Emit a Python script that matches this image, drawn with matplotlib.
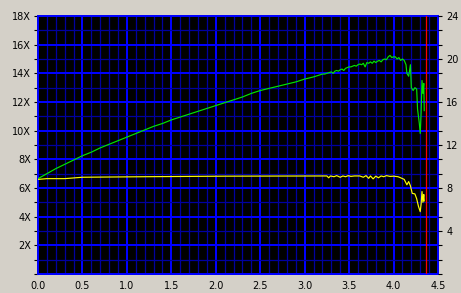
import matplotlib
matplotlib.use("Agg")
import matplotlib.pyplot as plt
from matplotlib.ticker import MultipleLocator, FixedLocator

# Data
read_pos = [0.0, 0.1, 0.2, 0.3, 0.4, 0.5, 0.6, 0.7, 0.8, 0.9, 1.0, 1.1, 1.2, 1.3,
            1.4, 1.5, 1.6, 1.7, 1.8, 1.9, 2.0, 2.1, 2.2, 2.3, 2.4, 2.5, 2.6, 2.7,
            2.8, 2.9, 3.0, 3.1, 3.15,
            3.20, 3.225, 3.25, 3.275, 3.30, 3.32, 3.34, 3.36, 3.38, 3.40, 3.42,
            3.44, 3.46, 3.48, 3.50, 3.52, 3.54, 3.56, 3.58, 3.60, 3.62, 3.64,
            3.66, 3.68, 3.70, 3.72, 3.74, 3.76, 3.78, 3.80, 3.82, 3.84, 3.86,
            3.88, 3.90, 3.92, 3.94, 3.96, 3.98, 4.00, 4.02, 4.04, 4.06, 4.08,
            4.10, 4.12, 4.14, 4.15, 4.17, 4.19, 4.20, 4.22, 4.24, 4.26, 4.27,
            4.29, 4.30, 4.31, 4.32, 4.33, 4.34, 4.345]
read_speed = [6.65, 7.0, 7.35, 7.65, 7.95, 8.25, 8.5, 8.8, 9.05, 9.3, 9.55, 9.8,
              10.05, 10.3, 10.5, 10.75, 10.95, 11.15, 11.35, 11.55, 11.75, 11.95,
              12.15, 12.35, 12.6, 12.8, 12.95, 13.1, 13.25, 13.4, 13.6, 13.75,
              13.85,
              13.95, 13.95, 14.0, 14.05, 14.1, 14.0, 14.15, 14.2, 14.15, 14.25,
              14.3, 14.2, 14.35, 14.4, 14.45, 14.45, 14.5, 14.55, 14.5, 14.6,
              14.65, 14.6, 14.7, 14.45, 14.75, 14.7, 14.8, 14.7, 14.85, 14.75,
              14.85, 14.9, 14.8, 14.95, 15.0, 14.95, 15.15, 15.25, 15.1, 15.15,
              15.15, 15.0, 15.1, 14.9, 15.0, 14.9, 14.6, 14.0, 13.8, 14.6, 13.0,
              12.8, 13.0, 12.9, 11.5, 10.5, 9.8, 11.2, 13.5, 12.6, 13.3, 11.4]

rpm_pos = [0.0, 0.1, 0.3, 0.5, 1.2, 2.1, 3.25, 3.27, 3.29, 3.33, 3.36, 3.40,
           3.43, 3.46, 3.49, 3.52, 3.56, 3.62, 3.66, 3.69, 3.72, 3.74, 3.77,
           3.80, 3.83, 3.86, 3.89, 3.92, 3.96, 4.0, 4.05, 4.08, 4.12, 4.15,
           4.17, 4.19, 4.21, 4.24, 4.26, 4.28, 4.30, 4.31, 4.32, 4.33, 4.34,
           4.345]
rpm_val = [8.8, 8.87, 8.87, 9.0, 9.05, 9.1, 9.12, 8.95, 9.12, 9.05, 9.15, 9.0,
           9.12, 9.05, 9.15, 9.08, 9.12, 9.12, 9.0, 9.15, 8.9, 9.12, 8.85, 9.1,
           8.95, 9.12, 9.05, 9.15, 9.08, 9.1, 9.05, 8.95, 8.8, 8.3, 8.6, 8.2,
           7.5, 7.45, 7.0, 6.3, 5.8, 6.5, 7.67, 6.67, 7.4, 6.8]

end_marker = 4.36

x_ticks = [0.0, 0.5, 1.0, 1.5, 2.0, 2.5, 3.0, 3.5, 4.0, 4.5]
x_labels = ["0.0", "0.5", "1.0", "1.5", "2.0", "2.5", "3.0", "3.5", "4.0", "4.5"]
left_ticks = [2, 4, 6, 8, 10, 12, 14, 16, 18]
left_labels = ["2X", "4X", "6X", "8X", "10X", "12X", "14X", "16X", "18X"]
right_ticks = [4, 8, 12, 16, 20, 24]
right_labels = ["4", "8", "12", "16", "20", "24"]

BG = "#D4D0C8"
MAJ = "#0000FF"
MIN = "#0000A0"

fig = plt.figure(figsize=(4.61, 2.93), dpi=100, facecolor=BG)
ax = fig.add_axes([38 / 461, 19 / 293, 400 / 461, 258 / 293])
ax.set_facecolor("black")
ax.set_xlim(0, 4.5)
ax.set_ylim(0, 18)

# grid
ax.xaxis.set_minor_locator(MultipleLocator(0.1))
ax.yaxis.set_minor_locator(MultipleLocator(1))
ax.set_xticks(x_ticks)
ax.set_xticklabels(x_labels)
ax.set_yticks(left_ticks)
ax.set_yticklabels(left_labels)
ax.grid(which="minor", color=MIN, linewidth=0.9)
ax.grid(which="major", color=MAJ, linewidth=1.44)
ax.set_axisbelow(True)

for s in ax.spines.values():
    s.set_color(MAJ)
    s.set_linewidth(1.44)

ax.tick_params(axis="x", which="both", length=0, pad=5, labelsize=7, colors="black")
ax.tick_params(axis="y", which="both", length=3, width=0.8, color="black",
               pad=2, labelsize=7, labelcolor="black")

ax.plot(read_pos, read_speed, color="#00E600", linewidth=0.85, zorder=3)

ax2 = ax.twinx()
ax2.set_ylim(0, 24)
ax2.yaxis.set_major_locator(FixedLocator(right_ticks))
ax2.set_yticklabels(right_labels)
ax2.yaxis.set_minor_locator(MultipleLocator(4 / 3))
ax2.tick_params(axis="y", which="both", length=3, width=0.8, color="black",
                pad=3, labelsize=7, labelcolor="black")
for s in ax2.spines.values():
    s.set_visible(False)
ax2.plot(rpm_pos, rpm_val, color="#FFFF00", linewidth=0.85, zorder=3)
ax2.axvline(end_marker, color="#FF0000", linewidth=0.9, zorder=4)

fig.savefig("out.png", dpi=100, facecolor=BG)
